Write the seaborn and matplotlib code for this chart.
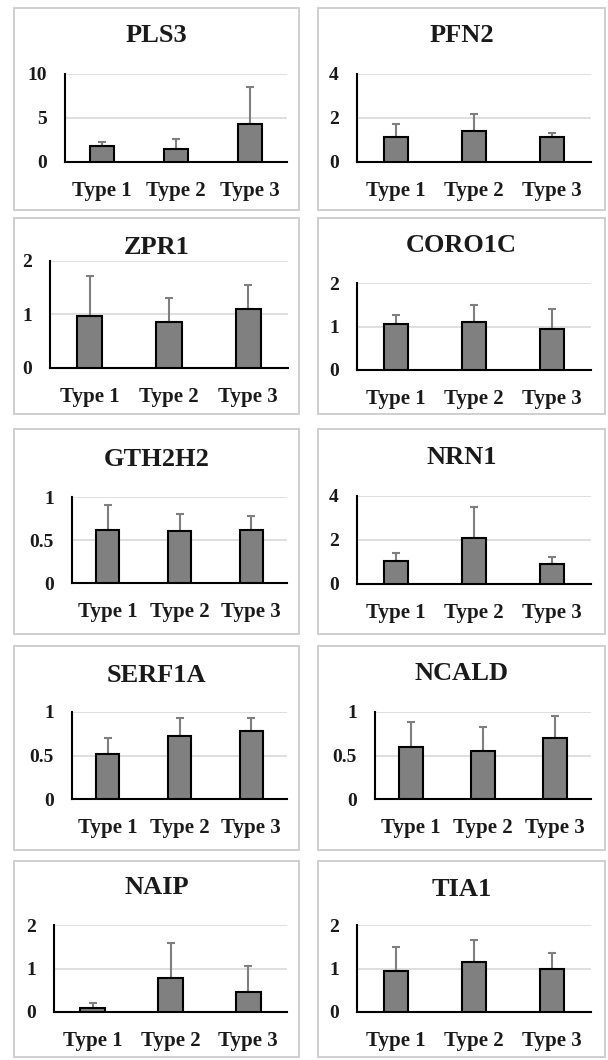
import numpy as np
import pandas as pd
import seaborn as sns
import matplotlib.pyplot as plt
from matplotlib.patches import Rectangle

# gene panels, left to right, top to bottom
genes = ["PLS3", "PFN2", "ZPR1", "CORO1C", "GTH2H2",
         "NRN1", "SERF1A", "NCALD", "NAIP", "TIA1"]
types = ["Type 1", "Type 2", "Type 3"]

# bar heights (mean) per gene for Type 1..3
means = [
    [1.8, 1.5, 4.3],
    [1.13, 1.41, 1.13],
    [0.98, 0.86, 1.1],
    [1.05, 1.1, 0.95],
    [0.62, 0.6, 0.62],
    [1.03, 2.08, 0.91],
    [0.52, 0.72, 0.78],
    [0.6, 0.55, 0.7],
    [0.09, 0.79, 0.45],
    [0.95, 1.14, 0.98],
]

# upper error bar lengths
errors = [
    [0.5, 1.1, 4.2],
    [0.59, 0.79, 0.19],
    [0.74, 0.45, 0.46],
    [0.21, 0.4, 0.45],
    [0.29, 0.2, 0.16],
    [0.4, 1.42, 0.31],
    [0.18, 0.21, 0.15],
    [0.28, 0.28, 0.25],
    [0.11, 0.8, 0.6],
    [0.55, 0.51, 0.37],
]

# y axis maximum per panel
y_max = [10, 4, 2, 2, 1, 4, 1, 1, 2, 2]

W, H = 608, 1060

# layout in pixels: axes (left, top, right, bottom)
axes_px = [
    (65, 74, 287, 162), (357, 74, 591, 162),
    (50, 261, 288, 368), (357, 283, 591, 370),
    (72, 497, 287, 583), (357, 496, 591, 584),
    (72, 712, 287, 799), (375, 712, 591, 799),
    (54, 925, 287, 1012), (357, 925, 591, 1012),
]
title_y = [35, 35, 247, 245, 459, 457, 676, 674, 887, 889]
col_x = [(14, 299), (318, 605)]
row_y = [(8, 210), (218, 414), (429, 634), (646, 850), (861, 1057)]

sns.set_style("white")
plt.rcParams["font.family"] = ["Liberation Serif", "DejaVu Serif"]
plt.rcParams["font.weight"] = "bold"
text_col = "#1a1a1a"

fig = plt.figure(figsize=(W / 100, H / 100), dpi=100)

# panel frames
for r, (y0, y1) in enumerate(row_y):
    for c, (x0, x1) in enumerate(col_x):
        fig.patches.append(Rectangle((x0 / W, 1 - y1 / H), (x1 - x0) / W, (y1 - y0) / H,
                                     transform=fig.transFigure, facecolor="none",
                                     edgecolor="#cfcfcf", linewidth=1.4, zorder=0))

for i, gene in enumerate(genes):
    l, t, r, b = axes_px[i]
    ax = fig.add_axes([l / W, 1 - b / H, (r - l) / W, (b - t) / H])
    ax.set_zorder(2)
    df = pd.DataFrame({"type": types, "value": means[i]})
    sns.barplot(data=df, x="type", y="value", color="#808080", saturation=1,
                width=0.32, edgecolor="black", linewidth=1.5, ax=ax, zorder=3)

    # one-sided (upper) error bars at the bar centres
    xs = [p.get_x() + p.get_width() / 2 for p in ax.patches]
    ys = [p.get_height() for p in ax.patches]
    ax.errorbar(xs, ys, yerr=[np.zeros(3), errors[i]], fmt="none",
                ecolor="#7f7f7f", elinewidth=1.5, capsize=2.6, capthick=1.5, zorder=2)

    top = y_max[i]
    ax.set_xlim(-0.5, len(types) - 0.5)
    ax.set_ylim(0, top)
    ax.set_yticks([0, top / 2, top])
    ax.set_yticklabels([f"{v:g}" for v in [0, top / 2, top]])
    ax.set_xlabel("")
    ax.set_ylabel("")
    ax.grid(axis="y", color="#d9d9d9", linewidth=1.2, zorder=0)
    ax.set_axisbelow(True)
    for s in ["top", "right"]:
        ax.spines[s].set_visible(False)
    for s in ["left", "bottom"]:
        ax.spines[s].set_color("black")
        ax.spines[s].set_linewidth(1.5)
    ax.tick_params(axis="x", length=0, pad=14, labelsize=15, labelcolor=text_col)
    ax.tick_params(axis="y", length=0, pad=13, labelsize=14, labelcolor=text_col)
    for lab in ax.get_xticklabels() + ax.get_yticklabels():
        lab.set_fontweight("bold")
    ax.patch.set_alpha(0)

    x0, x1 = col_x[i % 2]
    fig.text((x0 + x1) / 2 / W, 1 - title_y[i] / H, gene, ha="center", va="center",
             fontsize=19, fontweight="bold", color=text_col)

fig.savefig("out.png", dpi=100, facecolor="white")
